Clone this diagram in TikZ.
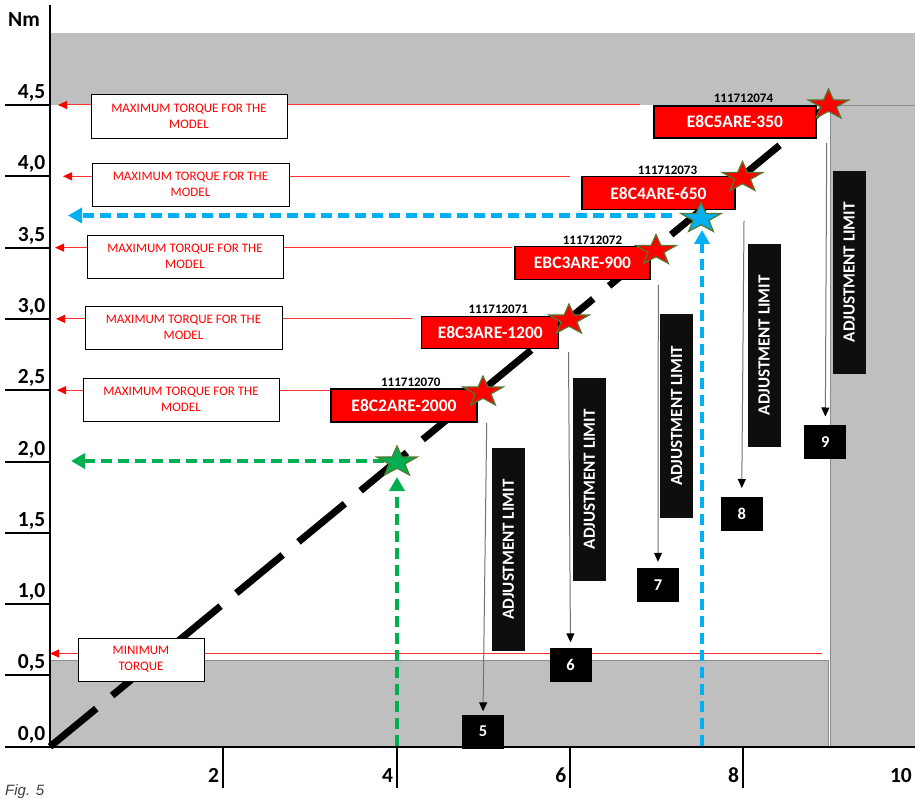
\documentclass[tikz,border=0pt]{standalone}
\usepackage{fontspec}
\setmainfont{Carlito}
\newfontfamily\figfont{Liberation Sans}
\usetikzlibrary{arrows.meta,shapes.geometric}
\definecolor{bandgray}{RGB}{191,191,191}
\definecolor{edgegray}{RGB}{140,140,140}
\definecolor{limred}{RGB}{255,50,50}
\definecolor{staredge}{RGB}{84,120,50}
\definecolor{dblue}{RGB}{0,176,240}
\definecolor{dgreen}{RGB}{0,176,80}
\definecolor{boxblack}{RGB}{14,14,14}
\tikzset{
  axisline/.style={line width=2pt, black},
  ticklbl/.style={font=\fontsize{21.5}{24}\selectfont\bfseries, inner sep=0pt},
  redarrow/.style={limred, line width=1pt, -{Triangle[length=9pt,width=8pt,fill=red,color=red]}},
  maxbox/.style={draw=black, line width=0.8pt, fill=white, text=red, align=center,
     font=\fontsize{13}{16}\selectfont, inner sep=0pt},
  modelbox/.style={draw=black, line width=1.3pt, fill=red, text=white, inner sep=0pt,
     font=\fontsize{17.5}{20}\selectfont\bfseries},
  codelbl/.style={font=\fontsize{13}{14}\selectfont\bfseries, inner sep=0pt},
  diag/.style={line width=7pt, black, dash pattern=on 60pt off 20.5pt},
  bluedash/.style={dblue, line width=4.5pt, dash pattern=on 11pt off 6pt, -{Triangle[length=14pt,width=15pt]}},
  greendash/.style={dgreen, line width=4.5pt, dash pattern=on 11pt off 6pt, -{Triangle[length=14pt,width=15pt]}},
  limbox/.style={fill=boxblack, text=white, rotate=90, minimum width=203pt, minimum height=33pt,
     inner sep=0pt, font=\fontsize{17}{18}\selectfont\bfseries},
  numbox/.style={fill=black, text=white, minimum width=42pt, minimum height=34pt, inner sep=0pt,
     font=\fontsize{16.5}{18}\selectfont\bfseries},
  limarrow/.style={draw=black!55, line width=1pt, -{Triangle[length=9pt,width=8pt,fill=black,color=black]}},
  pics/mstar/.style={code={\path[pic actions] (90:16pt) -- (126:6.3pt) -- (162:16pt) -- (198:6.3pt)
     -- (234:16pt) -- (270:6.3pt) -- (306:16pt) -- (342:6.3pt) -- (18:16pt) -- (54:6.3pt) -- cycle;}},
  redstar/.style={fill=red, draw=staredge, line width=1.2pt, xscale=1.32},
  greenstar/.style={fill=dgreen, draw=staredge, line width=1.2pt, xscale=1.32},
  bluestar/.style={fill=dblue, draw=staredge, line width=1.2pt, xscale=1.32}
}
\begin{document}
\begin{tikzpicture}[x=1pt,y=-1pt]
\useasboundingbox (0,0) rectangle (915,799);
% gray regions
\fill[bandgray] (50,33) rectangle (915,105);
\fill[bandgray] (830,105) rectangle (915,746);
\filldraw[fill=bandgray, draw=edgegray, line width=0.8pt] (50,660) rectangle (828,746);
\draw[edgegray, line width=0.8pt] (830,105.5) -- (915,105.5);
\draw[edgegray, line width=1pt] (830,105.5) -- (830,746);

% red limit lines
\coordinate (r45s) at (640,105);   \coordinate (r45e) at (58,105);
\coordinate (r40s) at (570,176.3); \coordinate (r40e) at (63,176.3);
\coordinate (r35s) at (512,247.6); \coordinate (r35e) at (55,247.6);
\coordinate (r30s) at (412,318.9); \coordinate (r30e) at (56,318.9);
\coordinate (r25s) at (331,390.2); \coordinate (r25e) at (57,390.2);
\coordinate (r05s) at (822,653.5); \coordinate (r05e) at (50,653.5);
\foreach \n in {45,40,35,30,25,05} {\draw[redarrow] (r\n s) -- (r\n e);}

% diagonal dashed line
\coordinate (O) at (50,746.7);
\coordinate (E) at (828.5,105);
\draw[diag] (O) -- (E);

% boxes "maximum torque"
\node[maxbox, minimum width=196pt, minimum height=44pt] (m45) at (189,116) {MAXIMUM TORQUE FOR THE\\MODEL};
\node[maxbox, minimum width=197pt, minimum height=43pt] (m40) at (190.5,184.5) {MAXIMUM TORQUE FOR THE\\MODEL};
\node[maxbox, minimum width=196pt, minimum height=43pt] (m35) at (185,256.5) {MAXIMUM TORQUE FOR THE\\MODEL};
\node[maxbox, minimum width=197pt, minimum height=43pt] (m30) at (183.5,327.5) {MAXIMUM TORQUE FOR THE\\MODEL};
\node[maxbox, minimum width=196pt, minimum height=43pt] (m25) at (181,399.5) {MAXIMUM TORQUE FOR THE\\MODEL};
\node[maxbox, minimum width=126pt, minimum height=43pt] (m05) at (141,659.5) {MINIMUM\\TORQUE};

% model boxes
\node[modelbox, minimum width=146pt, minimum height=33pt] (b2000) at (404,405.5) {E8C2ARE-2000};
\node[modelbox, minimum width=137pt, minimum height=32pt] (b1200) at (490.3,332.8) {E8C3ARE-1200};
\node[modelbox, minimum width=135pt, minimum height=33pt] (b900) at (582.5,263.3) {EBC3ARE-900};
\node[modelbox, minimum width=153pt, minimum height=33pt] (b650) at (658.5,193.3) {E8C4ARE-650};
\node[modelbox, minimum width=162pt, minimum height=32pt] (b350) at (735,122) {E8C5ARE-350};
\node[codelbl] (c2000) at (410.8,382) {111712070};
\node[codelbl] (c1200) at (498.3,309.3) {111712071};
\node[codelbl] (c900) at (592.5,240) {111712072};
\node[codelbl] (c650) at (667.5,170) {111712073};
\node[codelbl] (c350) at (743.5,98) {111712074};

% blue and green reading lines
\coordinate (bh) at (672,215.5); \coordinate (bht) at (68,215.5);
\coordinate (bv) at (702,746); \coordinate (bvt) at (702,230);
\draw[bluedash] (bh) -- (bht);
\draw[bluedash] (bv) -- (bvt);
\coordinate (gh) at (384,461); \coordinate (ght) at (71,461);
\coordinate (gv) at (397,746); \coordinate (gvt) at (397,477);
\draw[greendash] (gh) -- (ght);
\draw[greendash] (gv) -- (gvt);

% stars
\pic[redstar] at (483,392) {mstar};
\pic[redstar] at (569,320) {mstar};
\pic[redstar] at (656,250.5) {mstar};
\pic[redstar] at (742.5,177.5) {mstar};
\pic[redstar] at (828.5,105) {mstar};
\pic[greenstar] at (397,462) {mstar};
\pic[bluestar] at (701,218.5) {mstar};

% adjustment limit boxes
\node[limbox] (L5) at (508.3,549.5) {ADJUSTMENT LIMIT};
\node[limbox] (L6) at (589.3,479.3) {ADJUSTMENT LIMIT};
\node[limbox] (L7) at (676.5,416) {ADJUSTMENT LIMIT};
\node[limbox] (L8) at (764.2,345.3) {ADJUSTMENT LIMIT};
\node[limbox] (L9) at (849.2,272.3) {ADJUSTMENT LIMIT};

% number boxes
\node[numbox] (n5) at (483,731.5) {5};
\node[numbox] (n6) at (570.5,664.5) {6};
\node[numbox] (n7) at (658,585) {7};
\node[numbox] (n8) at (741.7,513.7) {8};
\node[numbox] (n9) at (825.3,442.2) {9};

% arrows to number boxes
\coordinate (a5) at (486.7,423);
\coordinate (a6) at (568.5,352);
\coordinate (a7) at (658.3,285);
\coordinate (a8) at (744,221);
\coordinate (a9) at (826.7,143);
\draw[limarrow, shorten >=3pt] (a5) -- (n5.north);
\draw[limarrow, shorten >=5pt] (a6) -- (n6.north);
\draw[limarrow, shorten >=6pt] (a7) -- (n7.north);
\draw[limarrow, shorten >=8.5pt] (a8) -- (n8.north);
\draw[limarrow, shorten >=8.5pt] (a9) -- (n9.north);

% axes
\draw[axisline] (50,5) -- (50,746.7);
\draw[axisline] (5,746.7) -- (915,746.7);
\foreach \i/\t in {0/{0,0},1/{0,5},2/{1,0},3/{1,5},4/{2,0},5/{2,5},6/{3,0},7/{3,5},8/{4,0},9/{4,5}} {
  \draw[axisline] (5,{746.7-71.3*\i}) -- (50,{746.7-71.3*\i});
  \node[ticklbl, anchor=base east] (yl\i) at (45.5,{740.2-71.3*\i}) {\t};
}
\foreach \x/\t in {222.7/2,396.7/4,570/6,742.7/8} {
  \draw[axisline] (\x,746.7) -- (\x,788);
  \node[ticklbl, anchor=base east] (xl\t) at ({\x-3.5},782) {\t};
}
\node[ticklbl, anchor=base east] (xl10) at (912,782) {10};
\node[ticklbl, anchor=base west] (nm) at (8,26.7) {Nm};
\node[inner sep=0pt, anchor=base west, text=black!75, font=\figfont\fontsize{15}{17}\selectfont\itshape] (fig) at (5,795.5) {Fig. 5};
\end{tikzpicture}
\end{document}
